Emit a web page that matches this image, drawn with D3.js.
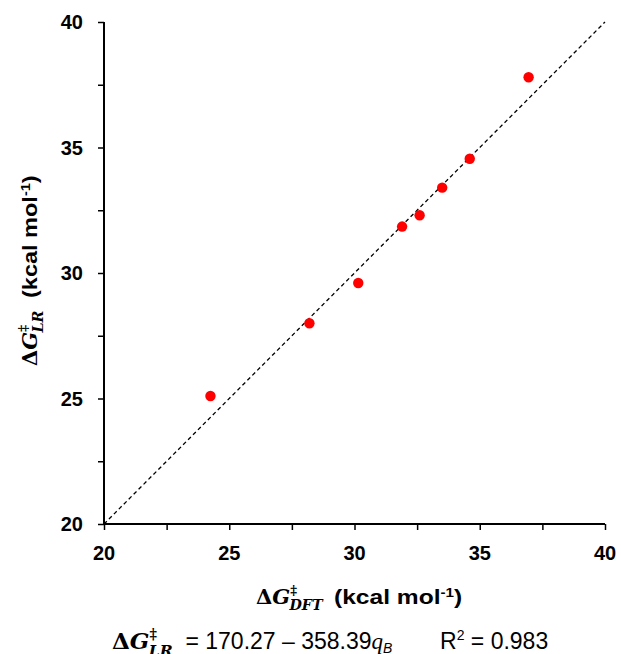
<!DOCTYPE html>
<html lang="en">
<head>
<title>LR vs DFT barrier</title>
<script src="https://cdn.jsdelivr.net/npm/d3@7"></script>
<style>
body { margin:0; background:#fff; }
text { font-family: Arial, "Liberation Sans", sans-serif; white-space: pre; }
</style>
</head>
<body>
<script>
// data
var dftVals = [24.25, 28.2, 30.15, 31.9, 32.6, 33.5, 34.6, 36.95];
var lrVals  = [25.1, 28.0, 29.6, 31.85, 32.3, 33.4, 34.55, 37.8];
var tickVals = [20, 22.5, 25, 27.5, 30, 32.5, 35, 37.5, 40];
var labelVals = [20, 25, 30, 35, 40];
var fitLine = [[20, 20], [40, 40]];

var W = 621, H = 654;
var svg = d3.select("body").append("svg").attr("width", W).attr("height", H);

var x = d3.scaleLinear().domain([20, 40]).range([104, 605]);
var y = d3.scaleLinear().domain([20, 40]).range([524, 22]);

var xAxis = d3.axisBottom(x).tickValues(tickVals).tickSize(6).tickFormat("");
var yAxis = d3.axisLeft(y).tickValues(tickVals).tickSize(6).tickFormat("");

function styleAxis(g) {
  g.select(".domain").attr("stroke", "#000").attr("stroke-width", 2);
  g.selectAll(".tick line").attr("stroke", "#000").attr("stroke-width", 1.5);
}
var gx = svg.append("g").attr("transform", "translate(0," + y(20) + ")").call(xAxis);
gx.select(".domain").attr("d", "M" + x(20) + ",0H" + x(40));
styleAxis(gx);
var gy = svg.append("g").attr("transform", "translate(" + x(20) + ",0)").call(yAxis);
gy.select(".domain").attr("d", "M0," + y(20) + "V" + y(40));
styleAxis(gy);

// tick labels
svg.selectAll(".xl").data(labelVals).enter().append("text")
  .attr("x", function(d) { return x(d); }).attr("y", y(20) + 36)
  .attr("text-anchor", "middle").attr("font-size", 20).attr("font-weight", "bold")
  .text(function(d) { return d; });
svg.selectAll(".yl").data(labelVals).enter().append("text")
  .attr("x", x(20) - 21).attr("y", function(d) { return y(d) + 7; })
  .attr("text-anchor", "end").attr("font-size", 20).attr("font-weight", "bold")
  .text(function(d) { return d; });

// parity line
svg.append("path").datum(fitLine)
  .attr("d", d3.line().x(function(d) { return x(d[0]); }).y(function(d) { return y(d[1]); }))
  .attr("stroke", "#000").attr("stroke-width", 1.3).attr("stroke-dasharray", "4,3").attr("fill", "none");

// points
svg.selectAll("circle").data(dftVals).enter().append("circle")
  .attr("cx", function(d) { return x(d); })
  .attr("cy", function(d, i) { return y(lrVals[i]); })
  .attr("r", 5.2).attr("fill", "#ff0000");

// label builder: ΔG with stacked ‡ and subscript
function dgLabel(t, sub, size) {
  var serif = "'DejaVu Serif', 'Liberation Serif', serif";
  t.append("tspan").attr("font-family", serif).attr("font-weight", "bold").text("Δ");
  t.append("tspan").attr("font-family", serif).attr("font-weight", "bold").attr("font-style", "italic").text("G");
  t.append("tspan").attr("font-family", serif).attr("font-weight", "bold").attr("font-size", size * 0.62)
    .attr("dy", -size * 0.42).text("‡");
  t.append("tspan").attr("font-family", serif).attr("font-weight", "bold").attr("font-style", "italic")
    .attr("font-size", size * 0.68).attr("dx", -size * 0.36).attr("dy", size * 0.72).text(sub);
  return -size * 0.3;
}
function unitLabel(t) {
  t.append("tspan").attr("font-weight", "bold").text("(kcal mol");
  t.append("tspan").attr("dy", -7).attr("font-size", 13).attr("font-weight", "bold").text("-1");
  t.append("tspan").attr("dy", 7).attr("font-weight", "bold").text(")");
}

var xt = svg.append("text").attr("x", 256).attr("y", 604).attr("font-size", 21);
dgLabel(xt, "DFT", 21);
unitLabel(svg.append("text").attr("transform", "translate(334,604) scale(1.17,1)").attr("font-size", 21));

var yt = svg.append("text").attr("transform", "translate(37,366) rotate(-90)").attr("font-size", 21);
dgLabel(yt, "LR", 21);
unitLabel(svg.append("text").attr("transform", "translate(37,298) rotate(-90) scale(1.12,1)").attr("font-size", 21));

// regression equation
var eq = svg.append("text").attr("x", 112).attr("y", 649).attr("font-size", 23);
var back = dgLabel(eq, "LR", 23);
eq.append("tspan").attr("dy", back).text("  = 170.27 – 358.39");
eq.append("tspan").attr("font-style", "italic").attr("font-family", "'Liberation Serif', serif").text("q");
eq.append("tspan").attr("font-size", 14).attr("dy", 4).attr("font-style", "italic").text("B");
eq.append("tspan").attr("x", 440).attr("dy", -4).text("R");
eq.append("tspan").attr("font-size", 14).attr("dy", -9).text("2");
eq.append("tspan").attr("dy", 9).text(" = 0.983");
</script>
</body>
</html>
